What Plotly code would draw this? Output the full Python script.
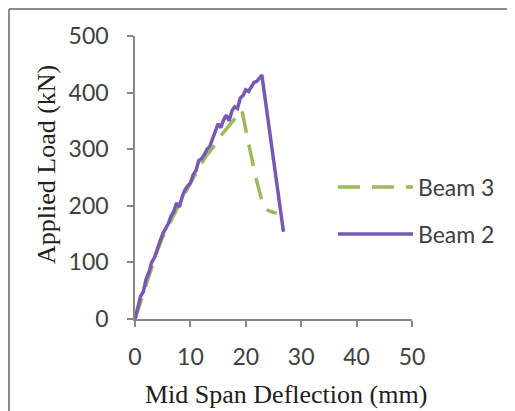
import plotly.graph_objects as go

# Data
beam3_x = [0, 1, 2, 3, 4, 5, 6, 7, 8, 9, 10, 11, 12, 13, 14, 15, 16, 17, 18, 19.3, 20.5, 21.8, 23.2, 24.0, 24.8, 25.6]
beam3_y = [0, 30, 62, 92, 120, 145, 165, 185, 205, 222, 240, 258, 275, 290, 302, 318, 330, 342, 355, 369, 310, 250, 198, 192, 189, 187]

beam2_x = [0, 0.5, 1.0, 1.5, 2.0, 2.6, 3.0, 3.5, 4.0, 4.6, 5.0, 5.5, 6.0, 6.5, 7.0, 7.5, 8.0, 8.5, 9.0, 9.5,
           10.0, 10.5, 11.0, 11.5, 12.0, 12.5, 13.0, 13.5, 14.0, 14.5, 15.0, 15.5, 16.0, 16.5, 17.0, 17.5,
           18.0, 18.5, 19.0, 19.5, 20.0, 20.5, 21.0, 21.5, 22.0, 22.9, 26.8]
beam2_y = [0, 18, 40, 48, 70, 85, 100, 108, 125, 140, 150, 158, 168, 182, 190, 205, 198, 215, 228, 235,
           240, 255, 262, 280, 283, 290, 300, 305, 318, 330, 345, 338, 352, 360, 350, 368,
           375, 372, 390, 395, 405, 402, 410, 418, 420, 431, 154]

x_ticks = [0, 10, 20, 30, 40, 50]
y_ticks = [0, 100, 200, 300, 400, 500]
x_title = "Mid Span Deflection (mm)"
y_title = "Applied Load (kN)"

GREEN = "#9bbb59"
PURPLE = "#7759b4"
AXIS = "#868686"

OFF = 8  # page body margin
W, H = 515, 411
PW, PH = 277, 283
L, T = 135 - OFF, 36 - OFF
R, B = W - L - PW, H - T - PH


def px_x(page_px):
    return (page_px - OFF - L) / PW


def px_y(page_py):
    return 1 - (page_py - OFF - T) / PH


fig = go.Figure()
fig.add_trace(go.Scatter(x=beam3_x, y=beam3_y, mode="lines", name="Beam 3",
                         line=dict(color=GREEN, width=3.5, dash="22px,12px"),
                         legend="legend"))
fig.add_trace(go.Scatter(x=beam2_x, y=beam2_y, mode="lines", name="Beam 2",
                         line=dict(color=PURPLE, width=3.5),
                         legend="legend2"))

tickfont = dict(family="Lato, Carlito, sans-serif", size=23, color="#404040")
titlefont = dict(family="Liberation Serif, Times New Roman, serif", size=26, color="#202020")
legfont = dict(family="Lato, Carlito, sans-serif", size=23, color="#404040")

fig.update_layout(
    width=W, height=H,
    margin=dict(l=L, r=R, t=T, b=B, autoexpand=False),
    paper_bgcolor="white", plot_bgcolor="white",
    showlegend=True,
    xaxis=dict(range=[0, 50], tickvals=x_ticks, showgrid=False, zeroline=False,
               showline=True, linecolor=AXIS, linewidth=1.5, automargin=False,
               ticks="outside", ticklen=6, tickcolor=AXIS, tickwidth=1.5,
               tickfont=tickfont, ticklabelstandoff=11),
    yaxis=dict(range=[0, 500], tickvals=y_ticks, showgrid=False, zeroline=False,
               showline=True, linecolor=AXIS, linewidth=1.5, automargin=False,
               ticks="outside", ticklen=6, tickcolor=AXIS, tickwidth=1.5,
               tickfont=tickfont, ticklabelstandoff=14),
    legend=dict(x=px_x(333), y=px_y(187), xanchor="left", yanchor="middle",
                font=legfont, itemwidth=75, bgcolor="rgba(0,0,0,0)"),
    legend2=dict(x=px_x(333), y=px_y(234), xanchor="left", yanchor="middle",
                 font=legfont, itemwidth=75, bgcolor="rgba(0,0,0,0)"),
    annotations=[
        dict(text=x_title, xref="paper", yref="paper", x=px_x(286), y=px_y(394),
             xanchor="center", yanchor="middle", showarrow=False, font=titlefont),
        dict(text=y_title, xref="paper", yref="paper", x=px_x(46), y=px_y(165),
             xanchor="center", yanchor="middle", showarrow=False, font=titlefont, textangle=-90),
    ],
    shapes=[
        dict(type="line", xref="paper", yref="paper", x0=px_x(OFF + 1), x1=px_x(W + OFF),
             y0=px_y(OFF + 1), y1=px_y(OFF + 1), line=dict(color="#8c8c8c", width=2)),
        dict(type="line", xref="paper", yref="paper", x0=px_x(OFF + 1), x1=px_x(OFF + 1),
             y0=px_y(OFF + 1), y1=px_y(H + OFF), line=dict(color="#8c8c8c", width=2)),
    ],
)

fig.write_html("out.html")
